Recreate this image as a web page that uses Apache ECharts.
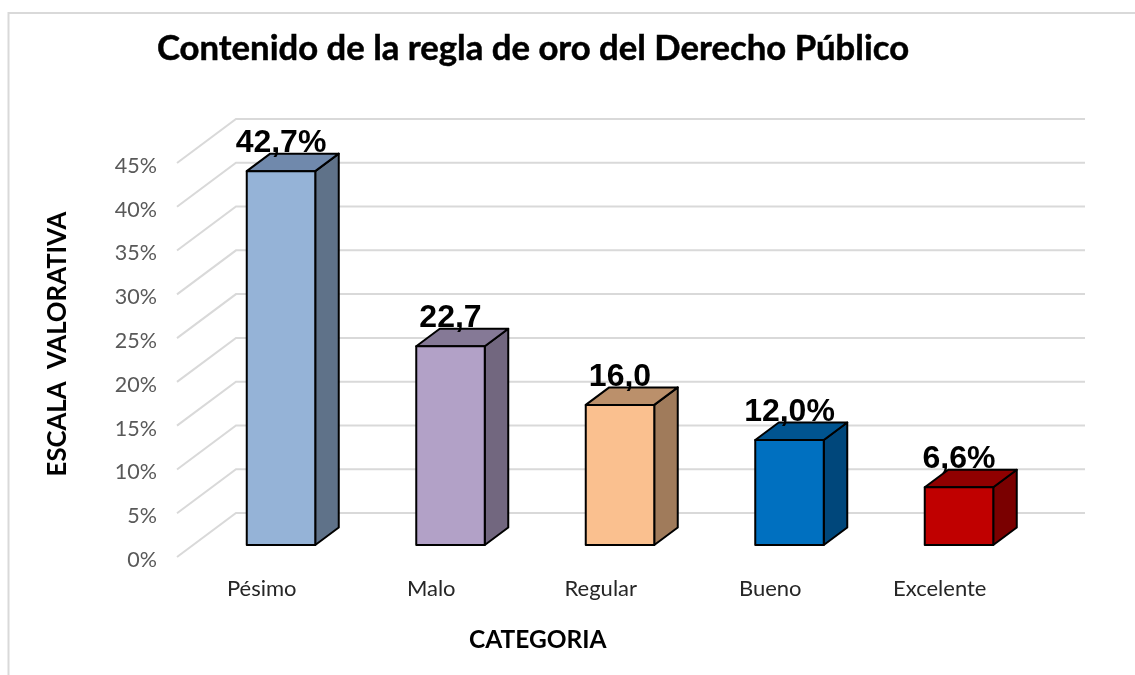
<!DOCTYPE html>
<html><head><meta charset="utf-8">
<style>html,body{margin:0;padding:0;background:#fff}#c{width:1135px;height:675px}</style>
<script src="https://cdn.jsdelivr.net/npm/echarts@6/dist/echarts.min.js"></script></head>
<body><div id="c"></div>
<script>
const categories = ['Pésimo','Malo','Regular','Bueno','Excelente'];
const values = [42.7,22.7,16.0,12.0,6.6];
const valueLabels = ['42,7%','22,7','16,0','12,0%','6,6%'];
const ticks = [0,5,10,15,20,25,30,35,40,45];
const frontColors = ['#95B3D7','#B2A1C7','#FAC08F','#0070C0','#C00000'];
const sideColors = ['#5F7289','#72677F','#A07B5B','#00477B','#7A0000'];
const topColors = ['#7089AC','#857996','#BB906B','#005490','#900000'];
const FONT = 'Lato, "Open Sans", sans-serif';
const wallDX = 59, wallDY = -44, wallExtra = 1.5;
const barOffX = 19.25, barOffY = -12, barDX = 23.5, barDY = -17.5;
const barW = 68.5;
const chart = echarts.init(document.getElementById('c'));
chart.setOption({
  animation:false,
  backgroundColor:'#fff',
  title:{text:'Contenido de la regla de oro del Derecho Público',left:152,top:26,
    textStyle:{fontFamily:FONT,fontWeight:'bold',fontSize:34.7,color:'#000',textBorderColor:'#000',textBorderWidth:0.5}},
  graphic:[{type:'polyline',silent:true,shape:{points:[[8.5,675],[8.5,13],[1135,13]]},style:{stroke:'#D9D9D9',lineWidth:2,fill:null}}],
  grid:{left:177,right:110.5,top:163,bottom:118,containLabel:false},
  xAxis:{type:'category',data:categories,name:'CATEGORIA',nameLocation:'middle',nameGap:71,
    nameTextStyle:{fontFamily:FONT,fontWeight:'bold',fontSize:24.5,color:'#000',padding:[0,126,0,0]},
    axisLine:{show:false},axisTick:{show:false},
    axisLabel:{fontFamily:FONT,fontSize:22,color:'#262626',margin:21}},
  yAxis:{type:'value',min:0,max:45,interval:5,name:'ESCALA  VALORATIVA',nameLocation:'middle',nameGap:106,
    nameTextStyle:{fontFamily:FONT,fontWeight:'bold',fontSize:25.7,color:'#000',padding:[0,0,0,32]},
    axisLine:{show:false},axisTick:{show:false},splitLine:{show:false},
    axisLabel:{formatter:'{value}%',fontFamily:FONT,fontSize:21.5,color:'#595959',margin:20,verticalAlign:'top',lineHeight:6}},
  series:[
   {type:'custom',coordinateSystem:'cartesian2d',data:ticks.map(t=>[0,t]),silent:true,z:1,
    renderItem(p,api){
      const v=api.value(1), a=api.coord([0,v]), s=api.size([1,0])[0];
      const x0=a[0]-s/2, y0=a[1];
      return {type:'polyline',shape:{points:[[x0,y0],[x0+wallDX,y0+wallDY],[x0+wallDX+wallExtra+s*categories.length,y0+wallDY]]},
        style:{stroke:'#D9D9D9',lineWidth:2,fill:null}};
    }},
   {type:'custom',coordinateSystem:'cartesian2d',data:values.map((v,i)=>[i,v]),silent:true,z:2,
    renderItem(p,api){
      const i=api.value(0), v=api.value(1), c=api.coord([i,v]), b=api.coord([i,0]);
      const l=c[0]+barOffX-barW/2, r=l+barW, t=c[1]+barOffY, bt=b[1]+barOffY;
      const ln={stroke:'#000',lineWidth:2,lineJoin:'round'};
      return {type:'group',children:[
        {type:'polygon',shape:{points:[[r,t],[r+barDX,t+barDY],[r+barDX,bt+barDY],[r,bt]]},style:{fill:sideColors[i],...ln}},
        {type:'polygon',shape:{points:[[l,t],[l+barDX,t+barDY],[r+barDX,t+barDY],[r,t]]},style:{fill:topColors[i],...ln}},
        {type:'rect',shape:{x:l,y:t,width:barW,height:bt-t},style:{fill:frontColors[i],...ln}},
        {type:'text',z2:10,style:{text:valueLabels[i],x:(l+r)/2,y:t-12,align:'center',verticalAlign:'bottom',
          fontFamily:'"Liberation Sans", Arial, sans-serif',fontWeight:'bold',fontSize:32,fill:'#000'}}
      ]};
    }}
  ]
});
</script></body></html>
